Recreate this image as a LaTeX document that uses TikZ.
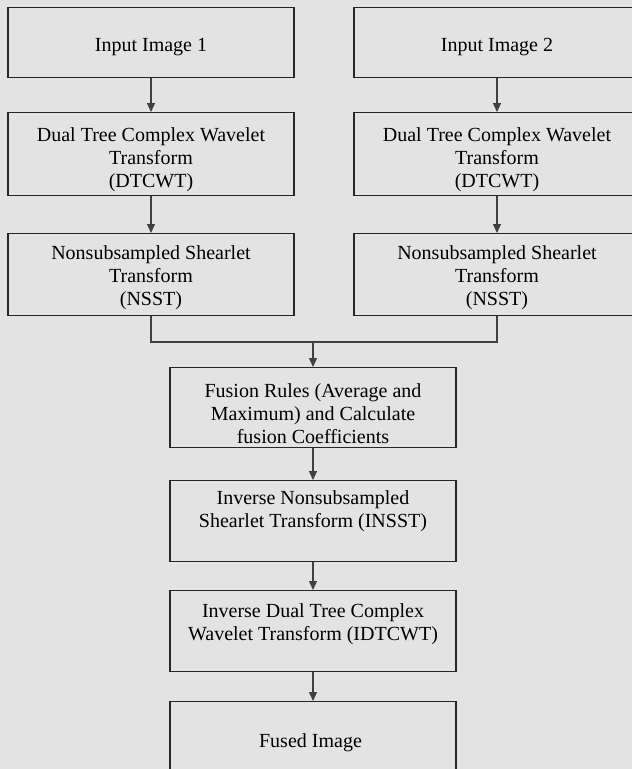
\documentclass[tikz,border=0pt]{standalone}
\usepackage{fontspec}
\setmainfont{Liberation Serif}
\usetikzlibrary{calc,arrows.meta}
\newcommand*{\DrawBlocks}[1]{% #1 = list of name/x/top/height/gap/text
  \foreach \name/\x/\y/\h/\gap/\txt in {#1} {
    \node [block, minimum height=\h] (\name) at (\x,\y) {};
    \node [blocktext] (\name-txt) at ($(\name.north)+(0,\gap)$) {\txt};
    }%
}

\begin{document}
\begin{tikzpicture}[x=1pt,y=-1pt,
    block/.style={draw=black!85, line width=1.2pt, minimum width=286, anchor=north, inner sep=0},
    blocktext/.style={anchor=north, align=center, inner sep=0, font=\fontsize{20}{23}\selectfont},
    joint/.style={draw=black!75, line width=1.2pt},
    flow/.style={joint, -{Triangle[length=9pt,width=8pt]}}]
    \clip (0,0) rectangle (632,769);
    \fill [black!11] (0,0) rectangle (632,769);
    \begin{scope}[local bounding box=chart]

         \DrawBlocks{
            %name/x/top/height/gap/text
            in1/151/7/70/31/{Input Image 1},
            in2/497/7/70/31/{Input Image 2},
            dt1/151/112/83/15/{Dual Tree Complex Wavelet\\Transform\\(DTCWT)},
            dt2/497/112/83/15/{Dual Tree Complex Wavelet\\Transform\\(DTCWT)},
            ns1/151/233/82/12/{Nonsubsampled Shearlet\\Transform\\(NSST)},
            ns2/497/233/82/12/{Nonsubsampled Shearlet\\Transform\\(NSST)},
            fus/313/367/80/16/{Fusion Rules (Average and\\Maximum) and Calculate\\fusion Coefficients},
            insst/313/480/81/10/{Inverse Nonsubsampled\\Shearlet Transform (INSST)},
            idtcwt/313/590/81/13/{Inverse Dual Tree Complex\\Wavelet Transform (IDTCWT)},
            fused/313/701/80/32/{Fused Image}
         }

    \end{scope}
    \coordinate (merge) at (313,342);
    \draw [flow] (in1) -- (dt1);
    \draw [flow] (dt1) -- (ns1);
    \draw [flow] (in2) -- (dt2);
    \draw [flow] (dt2) -- (ns2);
    \draw [joint] (ns1.south) |- (merge) -| (ns2.south);
    \draw [flow] (merge) -- (fus);
    \draw [flow] (fus) -- (insst);
    \draw [flow] (insst) -- (idtcwt);
    \draw [flow] (idtcwt) -- (fused);
\end{tikzpicture}
\end{document}
